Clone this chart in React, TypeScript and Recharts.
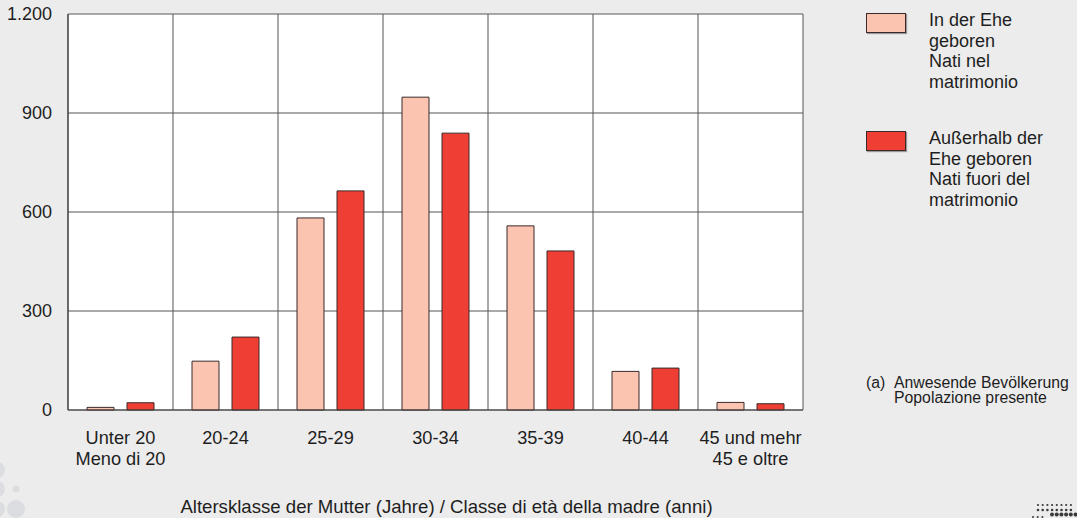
import React from 'react';
import { BarChart, Bar, XAxis, YAxis, CartesianGrid, Legend, Label } from 'recharts';

const categoriesDe = ['Unter 20', '20-24', '25-29', '30-34', '35-39', '40-44', '45 und mehr'];
const categoriesIt = ['Meno di 20', '', '', '', '', '', '45 e oltre'];
const inMarriage = [8, 148, 582, 948, 558, 117, 23];
const outMarriage = [22, 221, 664, 839, 482, 127, 19];
const yTicks = [0, 300, 600, 900, 1200];
const seriesLabels = [
  ['In der Ehe', 'geboren', 'Nati nel', 'matrimonio'],
  ['Außerhalb der', 'Ehe geboren', 'Nati fuori del', 'matrimonio'],
];
const footnote = ['(a)', 'Anwesende Bevölkerung', 'Popolazione presente'];
const axisTitle = 'Altersklasse der Mutter (Jahre) / Classe di età della madre (anni)';

const COLORS = ['#fac4b0', '#ef3e34'];
const FONT = '"Liberation Sans", Arial, Helvetica, sans-serif';
const TEXT = '#1e1e1e';

const data = categoriesDe.map((c, i) => ({
  cat: c,
  it: categoriesIt[i],
  inM: inMarriage[i],
  outM: outMarriage[i],
}));

const fmt = (v: number) => String(v).replace(/\B(?=(\d{3})+(?!\d))/g, '.');

const XTick = (props: any) => {
  const { x, y, payload, index } = props;
  const it = categoriesIt[index] || '';
  return (
    <g>
      <text x={x} y={y + 34} textAnchor="middle" fontSize={18.2} fill={TEXT} fontFamily={FONT}>
        {payload.value}
      </text>
      {it ? (
        <text x={x} y={y + 55} textAnchor="middle" fontSize={18.2} fill={TEXT} fontFamily={FONT}>
          {it}
        </text>
      ) : null}
    </g>
  );
};

const LegendContent = () => (
  <div style={{ position: 'relative', width: 0, height: 0, fontFamily: FONT, color: TEXT }}>
    {seriesLabels.map((lines, i) => (
      <div key={i} style={{ position: 'absolute', left: 866, top: 13 + i * 118, width: 200 }}>
        <div
          style={{
            position: 'absolute',
            left: 0,
            top: 0,
            width: 38,
            height: 18,
            background: COLORS[i],
            border: '1px solid #3a2a2a',
            boxShadow: '1px 1px 1px #9a9a9a',
          }}
        />
        <div style={{ position: 'absolute', left: 63, top: -3, fontSize: 18, lineHeight: '20.7px', whiteSpace: 'nowrap' }}>
          {lines.map((l, j) => (
            <div key={j}>{l}</div>
          ))}
        </div>
      </div>
    ))}
    <div style={{ position: 'absolute', left: 866, top: 375, fontSize: 15.8, lineHeight: '15px', whiteSpace: 'nowrap' }}>
      <span style={{ position: 'absolute', left: 0, top: 0 }}>{footnote[0]}</span>
      <span style={{ position: 'absolute', left: 28, top: 0 }}>{footnote[1]}</span>
      <span style={{ position: 'absolute', left: 28, top: 15 }}>{footnote[2]}</span>
    </div>
  </div>
);

const Decor = () => (
  <svg width={1077} height={518} style={{ position: 'absolute', left: 0, top: 0, pointerEvents: 'none' }}>
    <g fill="#dcdde0">
      <circle cx={-3} cy={470} r={8} />
      <circle cx={-3} cy={489} r={8} />
      <circle cx={16} cy={489} r={3.5} />
      <circle cx={-3} cy={509} r={8} />
      <circle cx={16} cy={509} r={9} />
    </g>
    <g fill="#3a3a3a">
      {[0, 1, 2, 3, 4, 5, 6, 7].map((c) => (
        <circle key={'a' + c} cx={1038 + c * 4.7} cy={505} r={1.1} />
      ))}
      {[0, 1, 2, 3, 4, 5, 6, 7].map((c) => (
        <circle key={'b' + c} cx={1038 + c * 4.7} cy={510} r={1.3} />
      ))}
      {[0, 1, 2, 3, 4, 5].map((c) => (
        <circle key={'c' + c} cx={1052 + c * 4.7} cy={514.5} r={2} />
      ))}
      {[0, 1, 2].map((c) => (
        <circle key={'d' + c} cx={1033 + c * 4.7} cy={517} r={1} />
      ))}
    </g>
  </svg>
);

export default function App() {
  return (
    <div
      style={{
        position: 'absolute',
        left: 0,
        top: 0,
        width: 1077,
        height: 518,
        background: '#ececec',
        fontFamily: FONT,
        overflow: 'hidden',
      }}
    >
      <Decor />
      <BarChart
        width={1077}
        height={518}
        data={data}
        margin={{ top: 14, right: 274, bottom: 0, left: 0 }}
        barSize={27}
        barGap={13}
        style={{ fontFamily: FONT }}
      >
        <CartesianGrid
          horizontal={true}
          vertical={false}
          fill="#ffffff"
          stroke="#8c8c8c"
          strokeWidth={1.4}
        />
        <CartesianGrid
          horizontal={false}
          vertical={true}
          stroke="#555555"
          strokeWidth={1}
          verticalCoordinatesGenerator={({ offset }: any) =>
            categoriesDe.concat(['']).map((_, i) => offset.left + (i * offset.width) / categoriesDe.length)
          }
        />
        <XAxis
          dataKey="cat"
          height={108}
          tickLine={false}
          tickSize={0}
          tickMargin={0}
          interval={0}
          axisLine={{ stroke: '#444', strokeWidth: 1.2 }}
          tick={<XTick />}
        >
          <Label
            value={axisTitle}
            position="insideBottom"
            offset={5}
            dx={11}
            fontSize={18.6}
            fill={TEXT}
            fontFamily={FONT}
          />
        </XAxis>
        <YAxis
          width={68}
          domain={[0, 1200]}
          ticks={yTicks}
          tickFormatter={fmt}
          tickLine={false}
          tickSize={0}
          tickMargin={16}
          axisLine={{ stroke: '#444', strokeWidth: 1.2 }}
          tick={{ fontSize: 18, fill: TEXT, fontFamily: FONT }}
          interval={0}
        />
        <Legend
          layout="vertical"
          align="right"
          verticalAlign="top"
          content={<LegendContent />}
          wrapperStyle={{ left: 0, top: 0, right: 'auto', bottom: 'auto', width: 0, height: 0, overflow: 'visible' }}
        />
        <Bar dataKey="inM" name="In der Ehe geboren / Nati nel matrimonio" fill={COLORS[0]} stroke="#3a2a2a" strokeWidth={1} isAnimationActive={false} />
        <Bar dataKey="outM" name="Außerhalb der Ehe geboren / Nati fuori del matrimonio" fill={COLORS[1]} stroke="#3a2a2a" strokeWidth={1} isAnimationActive={false} />
      </BarChart>
    </div>
  );
}
